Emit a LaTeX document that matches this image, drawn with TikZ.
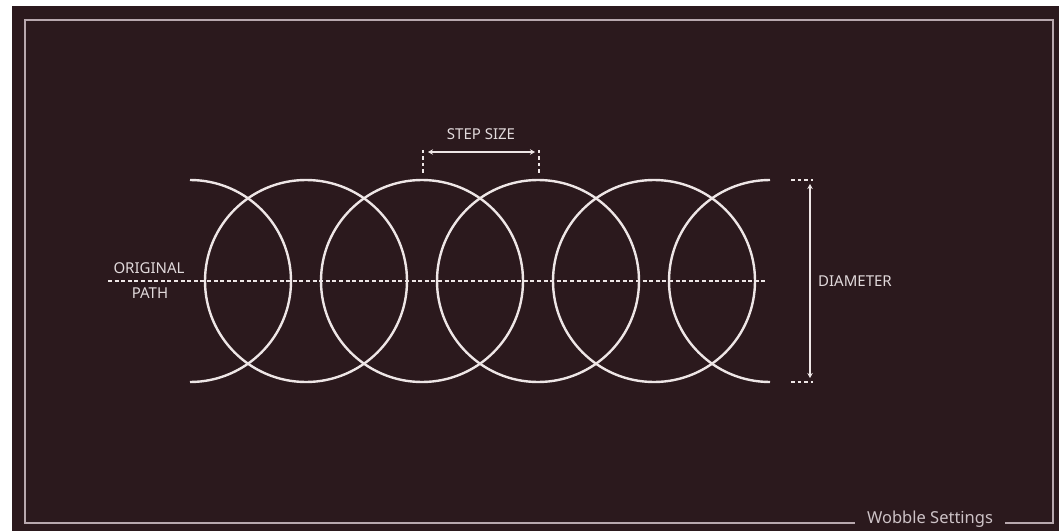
\documentclass[tikz,border=0pt]{standalone}
\usepackage{fontspec}
\setmainfont{Noto Sans}
\usetikzlibrary{arrows.meta}
\definecolor{bgdark}{HTML}{2B191D}
\definecolor{strokewhite}{HTML}{EEE6E6}
\definecolor{framegray}{HTML}{B8A8AE}
\definecolor{textgray}{HTML}{E2DADC}
\tikzset{
  x=1pt,y=1pt,
  wob/.style={draw=strokewhite,line width=2.4pt},
  pathline/.style={draw=strokewhite,line width=2.4pt,dash pattern=on 4pt off 2.6pt},
  tick/.style={draw=strokewhite,line width=2.6pt,dash pattern=on 3.5pt off 3pt},
  dim/.style={draw=strokewhite,line width=2.2pt,{Stealth[length=5pt,width=5.5pt]}-{Stealth[length=5pt,width=5.5pt]}},
  framel/.style={draw=framegray,line width=2.4pt},
  lbl/.style={text=textgray,font=\fontsize{15}{17}\selectfont,inner sep=0pt},
}
\begin{document}
\begin{tikzpicture}
\useasboundingbox (0,0) rectangle (1059,531);
\fill[white] (0,0) rectangle (1059,531);
\fill[bgdark] (12,0) rectangle (1059,525);
% frame
\coordinate (fbl) at (25,8);
\coordinate (ftl) at (25,511);
\coordinate (ftr) at (1053,511);
\coordinate (fbr) at (1053,8);
\coordinate (gapL) at (855,8);
\coordinate (gapR) at (1005,8);
\draw[framel] (gapL) -- (fbl) -- (ftl) -- (ftr) -- (fbr) -- (gapR);
\node[lbl,text=framegray!70!white,font=\fontsize{16.5}{18}\selectfont] (wobble) at (930,12) {Wobble Settings};
% circles
\draw[wob] (190,351) arc[start angle=90,end angle=-90,radius=101];
\foreach \cx in {306,422,538,654}{
  \draw[wob] (\cx,250) circle[radius=101];
}
\draw[wob] (770,351) arc[start angle=90,end angle=270,radius=101];
% original path
\coordinate (ps) at (108,250);
\coordinate (pe) at (765,250);
\draw[pathline] (ps) -- (pe);
\node[lbl] (orig1) at (149,263) {ORIGINAL};
\node[lbl] (orig2) at (150,238) {PATH};
% step size
\coordinate (s1t) at (423,381);
\coordinate (s1b) at (423,358);
\coordinate (s2t) at (539,381);
\coordinate (s2b) at (539,358);
\draw[tick] (s1t) -- (s1b);
\draw[tick] (s2t) -- (s2b);
\coordinate (sa) at (428,379);
\coordinate (sb) at (535,379);
\draw[dim] (sa) -- (sb);
\node[lbl] (stepsize) at (481,397) {STEP SIZE};
% diameter
\coordinate (dt1) at (791,351);
\coordinate (dt2) at (813,351);
\coordinate (db1) at (791,149);
\coordinate (db2) at (813,149);
\draw[tick] (dt1) -- (dt2);
\draw[tick] (db1) -- (db2);
\coordinate (da) at (810,347);
\coordinate (db) at (810,153);
\draw[dim] (da) -- (db);
\node[lbl,anchor=west] (diam) at (818,250) {DIAMETER};
\end{tikzpicture}
\end{document}
